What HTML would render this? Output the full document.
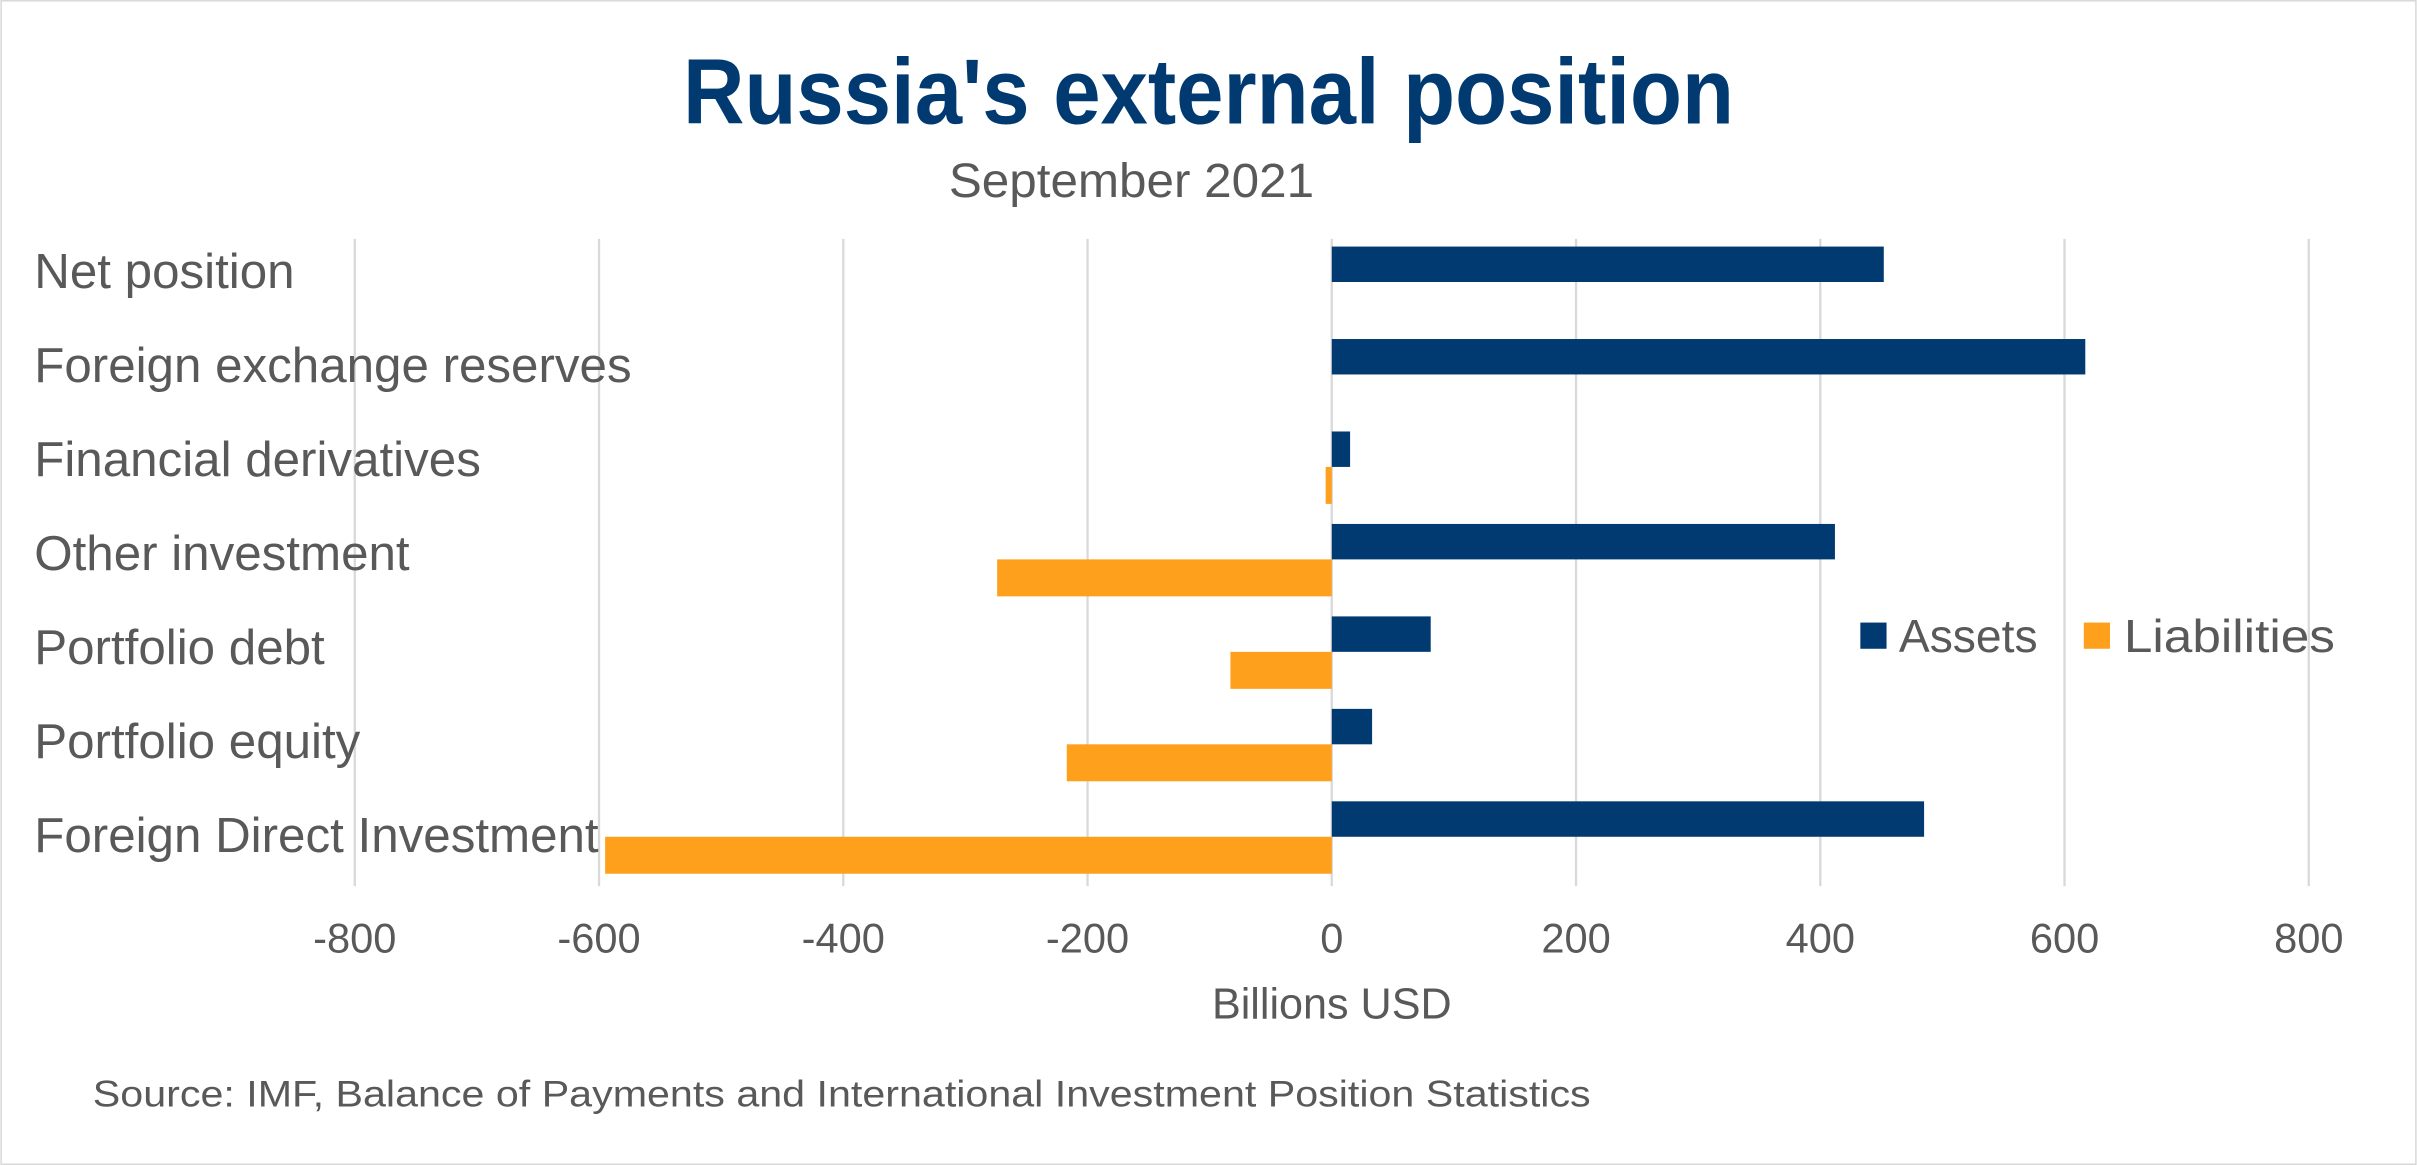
<!DOCTYPE html>
<html><head><meta charset="utf-8"><style>
html,body{margin:0;padding:0;background:#fff;}
svg{display:block;font-family:"Liberation Sans",sans-serif;}
</style></head><body>
<svg id="chart" width="2417" height="1165" viewBox="0 0 1568 756" xmlns="http://www.w3.org/2000/svg">
<rect x="0.5" y="0.5" width="1567" height="755" fill="#fff" stroke="#d9d9d9"/>
<text x="784" y="80" text-anchor="middle" font-size="60" font-weight="bold" fill="#003a70" textLength="682" lengthAdjust="spacingAndGlyphs">Russia's external position</text>
<text x="734" y="128" text-anchor="middle" font-size="31" fill="#595959" textLength="237" lengthAdjust="spacingAndGlyphs">September 2021</text>
<g id="grid"></g><g id="bars"></g><g id="labels"></g><g id="ticks"></g>
<text x="864" y="661" text-anchor="middle" font-size="28" fill="#595959">Billions USD</text>
<g>
<rect x="1207" y="404" width="17" height="17" fill="#003a70"/>
<text x="1232" y="423" font-size="30" fill="#595959">Assets</text>
<rect x="1352" y="404" width="17" height="17" fill="#ffa01c"/>
<text x="1378" y="423" font-size="30" fill="#595959" textLength="137" lengthAdjust="spacingAndGlyphs">Liabilities</text>
</g>
<text x="60" y="718" font-size="24" fill="#595959" textLength="972" lengthAdjust="spacingAndGlyphs">Source: IMF, Balance of Payments and International Investment Position Statistics</text>
</svg>
<script>
const categories = ["Net position","Foreign exchange reserves","Financial derivatives","Other investment","Portfolio debt","Portfolio equity","Foreign Direct Investment"];
const assets = [452, 617, 15, 412, 81, 33, 485];
const liabilities = [null, null, -5, -274, -83, -217, -595];
const ticks = [-800,-600,-400,-200,0,200,400,600,800];

const NS="http://www.w3.org/2000/svg";
const x0=864, pxPer=634/800, plotTop=155, band=60;
function xs(v){return x0+v*pxPer;}
function mk(tag,attrs,parent){const e=document.createElementNS(NS,tag);for(const k in attrs)e.setAttribute(k,attrs[k]);document.getElementById(parent).appendChild(e);return e;}
ticks.forEach(t=>{
  const l=mk("line",{x1:xs(t),x2:xs(t),y1:plotTop,y2:575,stroke:"#d9d9d9","stroke-width":1.5},"grid");
  
  
  const tx=mk("text",{x:xs(t),y:618,"text-anchor":"middle","font-size":27,fill:"#595959"},"ticks");
  tx.textContent=t;
  
  
});
categories.forEach((c,i)=>{
  const b=plotTop+band*i;
  const a=assets[i];
  if(a!==null){
    const r=mk("rect",{x:Math.min(xs(0),xs(a)),y:b+5,width:Math.abs(xs(a)-xs(0)),height:23,fill:"#003a70"},"bars");
    
    
  }
  const li=liabilities[i];
  if(li!==null){
    const r=mk("rect",{x:Math.min(xs(0),xs(li)),y:b+28,width:Math.abs(xs(li)-xs(0)),height:24,fill:"#ffa01c"},"bars");
    
    
  }
  const t=mk("text",{x:22,y:187+61*i,"font-size":32,fill:"#595959"},"labels");
  t.textContent=c;
  
  
});
</script>
</body></html>
